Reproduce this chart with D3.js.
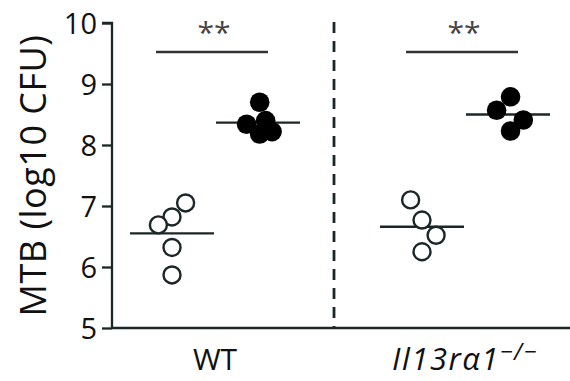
<!DOCTYPE html>
<html>
<head>
<meta charset="utf-8">
<script src="https://cdn.jsdelivr.net/npm/d3@7"></script>
<style>
  html, body { margin: 0; padding: 0; background: #fff; }
  svg { display: block; font-family: "Open Sans", "Noto Sans", sans-serif; }
</style>
</head>
<body>
<svg id="chart" width="570" height="381"></svg>
<script>
// Genotype groups and the two conditions plotted within each group
const groups = ["WT", "Il13ra1"];
const conditions = ["open", "filled"];

// Bacterial burden (log10 CFU) per animal
const wtOpen = [7.05, 6.82, 6.69, 6.32, 5.87];
const wtFilled = [8.70, 8.34, 8.18, 8.22, 8.40];
const koOpen = [7.10, 6.77, 6.52, 6.25];
const koFilled = [8.79, 8.57, 8.41, 8.23];

// Horizontal scatter within a column (fraction of the jitter width)
const wtOpenJitter = [0.8, 0.0, -0.8, 0.0, 0.0];
const wtFilledJitter = [0.1, -0.67, 0.1, 0.83, 0.45];
const koOpenJitter = [-0.67, 0.0, 0.83, 0.0];
const koFilledJitter = [0.15, -0.67, 0.9, 0.15];

// Axis ticks and significance marks
const yTicks = [5, 6, 7, 8, 9, 10];
const sigLabels = ["**", "**"];

const series = [
  { group: "WT", cond: "open", values: wtOpen, jitter: wtOpenJitter },
  { group: "WT", cond: "filled", values: wtFilled, jitter: wtFilledJitter },
  { group: "Il13ra1", cond: "open", values: koOpen, jitter: koOpenJitter },
  { group: "Il13ra1", cond: "filled", values: koFilled, jitter: koFilledJitter }
];

const svg = d3.select("#chart");
const ink = "#1b2626";

const y = d3.scaleLinear().domain([5, 10]).range([328, 23]);
const xGroup = d3.scalePoint().domain(groups).range([215, 465]);
const xCond = d3.scalePoint().domain(conditions).range([-43, 43]);
const xJit = d3.scaleLinear().domain([-1, 1]).range([-17, 17]);
const colX = s => xGroup(s.group) + xCond(s.cond);

// y axis
const yAxis = d3.axisLeft(y).tickValues(yTicks).tickSize(10).tickSizeOuter(10).tickPadding(5)
  .tickFormat(d3.format("d"));
const gy = svg.append("g").attr("transform", "translate(112,0)").call(yAxis);
gy.select(".domain").attr("stroke", ink).attr("stroke-width", 2.3)
  .attr("d", `M-10,${y(10)}H0V${y(5)}`);
gy.selectAll(".tick line").attr("stroke", ink).attr("stroke-width", 2.3);
gy.selectAll(".tick text").attr("fill", "#111").style("font-size", "29px")
  .style("font-family", "\"Open Sans\", sans-serif").attr("dy", "0.36em");

// x axis baseline
svg.append("line")
  .attr("x1", 112).attr("x2", 570).attr("y1", y(5)).attr("y2", y(5))
  .attr("stroke", ink).attr("stroke-width", 2.3);

// dashed divider between genotypes
svg.append("line")
  .attr("x1", 334).attr("x2", 334).attr("y1", y(10) - 1).attr("y2", y(5))
  .attr("stroke", ink).attr("stroke-width", 2.8).attr("stroke-dasharray", "11,8");

// y axis title
svg.append("text")
  .attr("transform", `translate(46,${(y(5) + y(10)) / 2}) rotate(-90)`)
  .attr("text-anchor", "middle").attr("fill", "#111")
  .style("font-size", "36px").style("letter-spacing", "0.5px")
  .text("MTB (log10 CFU)");

// group labels
svg.append("text").attr("x", xGroup("WT")).attr("y", 370).attr("text-anchor", "middle")
  .attr("fill", "#111").style("font-size", "30px").text("WT");
const koLabel = svg.append("text").attr("x", xGroup("Il13ra1")).attr("y", 370)
  .attr("text-anchor", "middle").attr("fill", "#111").style("font-size", "31px")
  .style("font-style", "italic").style("letter-spacing", "1.5px");
koLabel.append("tspan").text("Il13rα1");
koLabel.append("tspan").attr("dy", "-0.42em").style("font-size", "23px").text("−/−");

// mean lines
series.forEach(s => {
  const m = d3.mean(s.values);
  svg.append("line")
    .attr("x1", colX(s) - 42).attr("x2", colX(s) + 42)
    .attr("y1", y(m)).attr("y2", y(m))
    .attr("stroke", ink).attr("stroke-width", 2.3);
});

// individual animals
series.forEach(s => {
  svg.append("g").selectAll("circle")
    .data(s.values.map((v, i) => ({ v, j: s.jitter[i] })))
    .join("circle")
    .attr("cx", d => colX(s) + xJit(d.j))
    .attr("cy", d => y(d.v))
    .attr("r", s.cond === "open" ? 8.5 : 9.8)
    .attr("fill", s.cond === "open" ? "#fff" : "#000")
    .attr("stroke", s.cond === "open" ? ink : "none")
    .attr("stroke-width", 2.4);
});

// significance brackets
groups.forEach((g, i) => {
  const cx = xGroup(g) - 3;
  svg.append("line")
    .attr("x1", cx - 56).attr("x2", cx + 56).attr("y1", 52).attr("y2", 52)
    .attr("stroke", "#333").attr("stroke-width", 2.4);
  svg.append("text").attr("x", cx + 2).attr("y", 43).attr("text-anchor", "middle")
    .attr("fill", "#444").style("font-size", "30px").text(sigLabels[i]);
});
</script>
</body>
</html>
